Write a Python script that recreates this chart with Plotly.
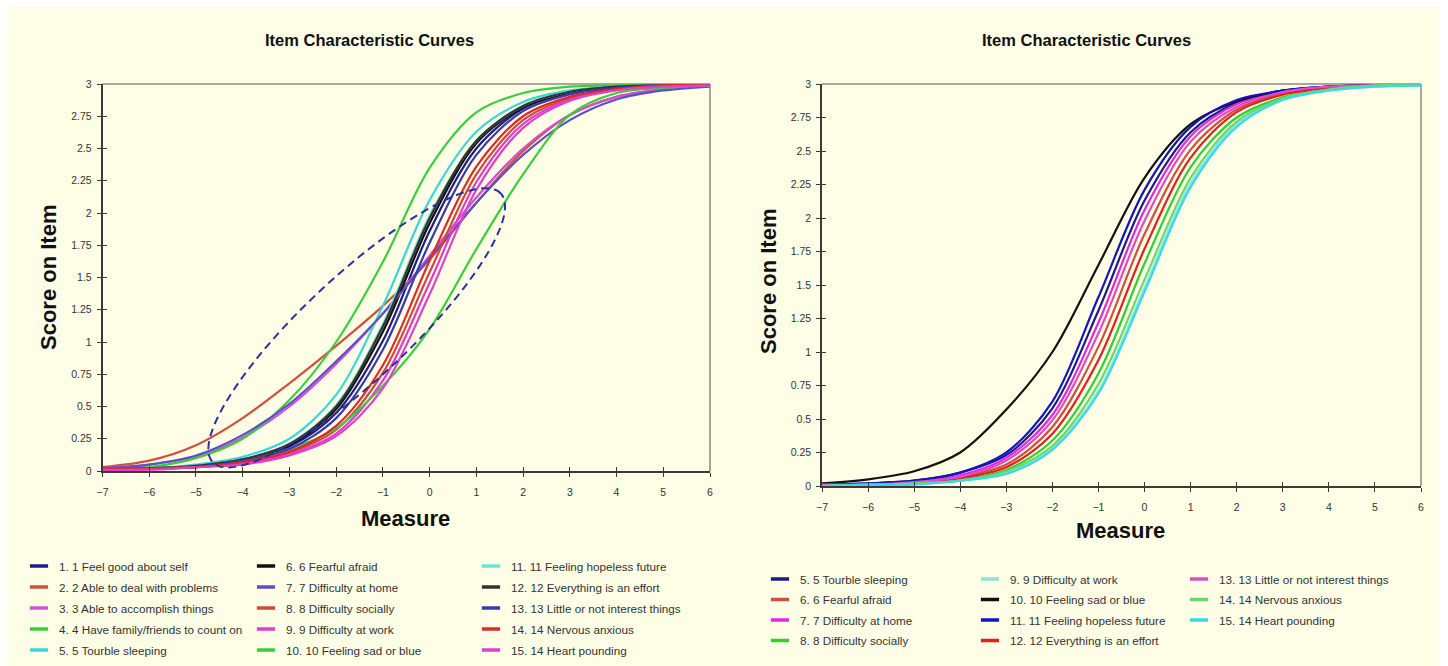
import numpy as np
import plotly.graph_objects as go

W, H = 1448, 666
FONT = "Liberation Sans"
CREAM = "#FEFEE6"

# ---------------- data ----------------
MEASURE = [-7, -6, -5, -4, -3, -2, -1, 0, 1, 2, 3, 4, 5, 6]
Y_TICKS = [0, 0.25, 0.5, 0.75, 1, 1.25, 1.5, 1.75, 2, 2.25, 2.5, 2.75, 3]

LEFT_NAMES = [
    "1. 1 Feel good about self", "2. 2 Able to deal with problems",
    "3. 3 Able to accomplish things", "4. 4 Have family/friends to count on",
    "5. 5 Tourble sleeping", "6. 6 Fearful afraid", "7. 7 Difficulty at home",
    "8. 8 Difficulty socially", "9. 9 Difficulty at work",
    "10. 10 Feeling sad or blue", "11. 11 Feeling hopeless future",
    "12. 12 Everything is an effort", "13. 13 Little or not interest things",
    "14. 14 Nervous anxious", "15. 14 Heart pounding",
]
LEFT_COLORS = [
    "#1c1c8a", "#d0503c", "#d24fd2", "#3ccc3c", "#3fd4dc", "#111111", "#5b4fc8",
    "#cc4b3c", "#dc3cd0", "#3ccc3c", "#6fe0e0", "#333333", "#3a3aa8", "#dd2a2a",
    "#e040c8",
]
L01 = [0.01, 0.02, 0.04, 0.08, 0.19, 0.45, 1.01, 1.86, 2.50, 2.81, 2.93, 2.97, 2.99, 3.00]
L02 = [0.03, 0.08, 0.20, 0.41, 0.68, 0.97, 1.28, 1.64, 2.08, 2.48, 2.76, 2.90, 2.96, 2.99]
L03 = [0.02, 0.05, 0.11, 0.26, 0.50, 0.83, 1.22, 1.67, 2.12, 2.50, 2.76, 2.90, 2.96, 2.99]
L04 = [0.01, 0.03, 0.10, 0.25, 0.55, 1.00, 1.62, 2.35, 2.78, 2.93, 2.98, 2.99, 3.00, 3.00]
L05 = [0.01, 0.02, 0.05, 0.11, 0.25, 0.59, 1.28, 2.10, 2.63, 2.86, 2.95, 2.98, 2.99, 3.00]
L06 = [0.01, 0.02, 0.04, 0.09, 0.20, 0.48, 1.08, 1.92, 2.54, 2.82, 2.93, 2.98, 2.99, 3.00]
L07 = [0.02, 0.05, 0.12, 0.28, 0.52, 0.85, 1.22, 1.65, 2.08, 2.45, 2.72, 2.88, 2.95, 2.98]
L08 = [0.01, 0.02, 0.03, 0.06, 0.14, 0.32, 0.76, 1.54, 2.30, 2.72, 2.89, 2.96, 2.99, 3.00]
L09 = [0.01, 0.02, 0.03, 0.06, 0.13, 0.29, 0.70, 1.46, 2.24, 2.69, 2.88, 2.96, 2.98, 2.99]
L10 = [0.01, 0.02, 0.04, 0.08, 0.17, 0.33, 0.66, 1.10, 1.72, 2.30, 2.76, 2.93, 2.97, 2.99]
L11 = [0.01, 0.02, 0.04, 0.09, 0.21, 0.51, 1.14, 1.98, 2.56, 2.83, 2.94, 2.98, 2.99, 3.00]
L12 = [0.01, 0.02, 0.04, 0.09, 0.21, 0.50, 1.12, 1.96, 2.56, 2.83, 2.94, 2.98, 2.99, 3.00]
L13 = [0.01, 0.02, 0.03, 0.08, 0.17, 0.41, 0.94, 1.77, 2.45, 2.79, 2.92, 2.97, 2.99, 3.00]
L14 = [0.01, 0.02, 0.03, 0.07, 0.15, 0.35, 0.82, 1.63, 2.36, 2.75, 2.90, 2.96, 2.99, 3.00]
L15 = [0.01, 0.01, 0.03, 0.05, 0.12, 0.27, 0.64, 1.37, 2.18, 2.66, 2.87, 2.95, 2.98, 2.99]
LEFT_SERIES = [L01, L02, L03, L04, L05, L06, L07, L08, L09, L10, L11, L12, L13, L14, L15]

RIGHT_NAMES = [
    "5. 5 Tourble sleeping", "6. 6 Fearful afraid", "7. 7 Difficulty at home",
    "8. 8 Difficulty socially", "9. 9 Difficulty at work",
    "10. 10 Feeling sad or blue", "11. 11 Feeling hopeless future",
    "12. 12 Everything is an effort", "13. 13 Little or not interest things",
    "14. 14 Nervous anxious", "15. 14 Heart pounding",
]
RIGHT_COLORS = [
    "#1a1a90", "#d05040", "#e028e0", "#30d030", "#8ae6d6", "#111111", "#1414c0",
    "#e02020", "#e04ac8", "#6ad86a", "#3ad8ea",
]
R05 = [0.01, 0.02, 0.04, 0.10, 0.23, 0.58, 1.31, 2.13, 2.64, 2.86, 2.95, 2.98, 2.99, 3.00]
R06 = [0.01, 0.01, 0.03, 0.07, 0.16, 0.44, 1.04, 1.88, 2.51, 2.81, 2.93, 2.97, 2.99, 3.00]
R07 = [0.01, 0.01, 0.03, 0.08, 0.21, 0.53, 1.22, 2.06, 2.61, 2.85, 2.94, 2.98, 2.99, 3.00]
R08 = [0.01, 0.01, 0.02, 0.05, 0.12, 0.34, 0.84, 1.66, 2.38, 2.75, 2.90, 2.97, 2.99, 3.00]
R09 = [0.00, 0.01, 0.02, 0.04, 0.10, 0.28, 0.71, 1.48, 2.26, 2.70, 2.89, 2.96, 2.98, 2.99]
R10 = [0.02, 0.05, 0.11, 0.25, 0.57, 1.00, 1.65, 2.30, 2.70, 2.87, 2.95, 2.98, 2.99, 3.00]
R11 = [0.01, 0.02, 0.04, 0.10, 0.25, 0.63, 1.41, 2.21, 2.68, 2.88, 2.95, 2.98, 2.99, 3.00]
R12 = [0.01, 0.01, 0.02, 0.06, 0.14, 0.39, 0.94, 1.77, 2.45, 2.79, 2.92, 2.97, 2.99, 3.00]
R13 = [0.01, 0.01, 0.03, 0.07, 0.19, 0.49, 1.14, 1.98, 2.57, 2.83, 2.94, 2.98, 2.99, 3.00]
R14 = [0.00, 0.01, 0.02, 0.04, 0.11, 0.30, 0.76, 1.54, 2.30, 2.72, 2.89, 2.96, 2.99, 2.99]
R15 = [0.00, 0.01, 0.01, 0.04, 0.09, 0.27, 0.69, 1.45, 2.23, 2.68, 2.88, 2.95, 2.98, 2.99]
RIGHT_SERIES = [R05, R06, R07, R08, R09, R10, R11, R12, R13, R14, R15]

# dashed ellipse highlighting the shallow items (centre in data units, axes in px)
ELLIPSE_CENTER = (-1.56, 1.11)
ELLIPSE_SEMI_MAJOR_PX = 197
ELLIPSE_SEMI_MINOR_PX = 52
ELLIPSE_ANGLE_DEG = 43

# ---------------- layout geometry (px) ----------------
LEFT_BOX = dict(l=102.5, r=710, t=84, b=471)
RIGHT_BOX = dict(l=822, r=1421, t=84, b=486)
X_RANGE = [-7, 6]
Y_RANGE = [0, 3]


def xdom(box):
    return [box["l"] / W, box["r"] / W]


def ydom(box):
    return [1 - box["b"] / H, 1 - box["t"] / H]


fig = go.Figure()

LEFT_LEGENDS = ["legend", "legend2", "legend3"]
RIGHT_LEGENDS = ["legend4", "legend5", "legend6"]


def add_item(name, col, ys, xa, ya, legend, group):
    # the curve itself
    fig.add_trace(go.Scatter(
        x=MEASURE, y=ys, name=name, mode="lines",
        line=dict(color=col, width=2.2, shape="spline", smoothing=0.9),
        xaxis=xa, yaxis=ya, legendgroup=group, showlegend=False, hoverinfo="skip"))
    # its legend key: a short thick dash, as in the original
    fig.add_trace(go.Scatter(
        x=[None], y=[None], name=name, mode="markers",
        marker=dict(symbol="line-ew", size=13, color=col, line=dict(width=3.5, color=col)),
        xaxis=xa, yaxis=ya, legend=legend, legendgroup=group, hoverinfo="skip"))


for i, (name, col, ys) in enumerate(zip(LEFT_NAMES, LEFT_COLORS, LEFT_SERIES)):
    add_item(name, col, ys, "x", "y", LEFT_LEGENDS[i // 5], f"L{i}")

for i, (name, col, ys) in enumerate(zip(RIGHT_NAMES, RIGHT_COLORS, RIGHT_SERIES)):
    add_item(name, col, ys, "x2", "y2", RIGHT_LEGENDS[i // 4], f"R{i}")

# dummy traces so the overlay axes (inner half of the cross ticks) are drawn
for xa, ya in (("x3", "y3"), ("x4", "y4")):
    fig.add_trace(go.Scatter(x=[None], y=[None], xaxis=xa, yaxis=ya,
                             showlegend=False, hoverinfo="skip"))

tickfont = dict(family=FONT, size=10.5, color="#333333")
AX_DARK = "#3a3a3a"


def main_x(box, anchor):
    return dict(domain=xdom(box), range=X_RANGE, anchor=anchor, tick0=-7, dtick=1,
                ticks="outside", ticklen=4, tickwidth=1, tickcolor=AX_DARK,
                showline=True, linecolor=AX_DARK, linewidth=1.5, showgrid=False,
                zeroline=False, tickfont=tickfont, ticklabelstandoff=7,
                automargin=False, fixedrange=True)


def main_y(box, anchor):
    return dict(domain=ydom(box), range=Y_RANGE, anchor=anchor, tickvals=Y_TICKS,
                ticks="outside", ticklen=4, tickwidth=1, tickcolor=AX_DARK,
                showline=True, linecolor=AX_DARK, linewidth=1.5, showgrid=False,
                zeroline=False, tickfont=tickfont, ticklabelstandoff=3,
                automargin=False, fixedrange=True)


def over_x(main, anchor):
    return dict(overlaying=main, range=X_RANGE, anchor=anchor, tick0=-7, dtick=1,
                ticks="inside", ticklen=4, tickwidth=1, tickcolor=AX_DARK,
                showline=False, showgrid=False, zeroline=False, showticklabels=False,
                automargin=False, fixedrange=True)


def over_y(main, anchor):
    return dict(overlaying=main, range=Y_RANGE, anchor=anchor, tickvals=Y_TICKS,
                ticks="inside", ticklen=4, tickwidth=1, tickcolor=AX_DARK,
                showline=False, showgrid=False, zeroline=False, showticklabels=False,
                automargin=False, fixedrange=True)


legend_base = dict(orientation="v", xanchor="left", yanchor="top",
                   bgcolor="rgba(0,0,0,0)", borderwidth=0,
                   traceorder="grouped", itemsizing="trace",
                   font=dict(family=FONT, size=11.7, color="#333333"),
                   itemclick=False, itemdoubleclick=False)

LEFT_LEGEND_TEXT_X = [59, 286, 511]
LEFT_LEGEND_ROW1 = 567
RIGHT_LEGEND_TEXT_X = [800, 1010, 1219]
RIGHT_LEGEND_ROW1 = 580
ROW1_OFFSET = 15.4  # distance from legend top to centre of its first row

legends = {}
for key, tx in zip(LEFT_LEGENDS, LEFT_LEGEND_TEXT_X):
    legends[key] = dict(legend_base, x=(tx - 40) / W, tracegroupgap=2,
                        y=1 - (LEFT_LEGEND_ROW1 - ROW1_OFFSET) / H)
for key, tx in zip(RIGHT_LEGENDS, RIGHT_LEGEND_TEXT_X):
    legends[key] = dict(legend_base, x=(tx - 40) / W, tracegroupgap=1.5,
                        y=1 - (RIGHT_LEGEND_ROW1 - ROW1_OFFSET) / H)


def ann(text, px, py, size, angle=0):
    return dict(text=text, x=px / W, y=1 - py / H, xref="paper", yref="paper",
                xanchor="center", yanchor="middle", showarrow=False, textangle=angle,
                font=dict(family=FONT, size=size, color="#111111", weight="bold"))


annotations = [
    ann("Item Characteristic Curves", 369, 40, 16.5),
    ann("Item Characteristic Curves", 1086, 40, 16.5),
    ann("Measure", 405, 518, 22),
    ann("Measure", 1120, 530, 22),
    ann("Score on Item", 48, 278, 22, -90),
    ann("Score on Item", 768, 282, 22, -90),
]

shapes = [
    # white outer edge of the picture
    dict(type="rect", xref="paper", yref="paper", x0=0, x1=1, y0=1 - 7 / H, y1=1,
         fillcolor="white", line=dict(width=0), layer="below"),
    dict(type="rect", xref="paper", yref="paper", x0=0, x1=7 / W, y0=0, y1=1,
         fillcolor="white", line=dict(width=0), layer="below"),
    dict(type="rect", xref="paper", yref="paper", x0=1 - 9 / W, x1=1, y0=0, y1=1,
         fillcolor="white", line=dict(width=0), layer="below"),
]
# grey top / right frame of each plot area
for xr, yr in (("x", "y"), ("x2", "y2")):
    shapes.append(dict(type="line", xref=f"{xr} domain", yref=f"{yr} domain",
                       x0=0, x1=1, y0=1, y1=1, line=dict(color="#8a8a80", width=1.5),
                       layer="below"))
    shapes.append(dict(type="line", xref=f"{xr} domain", yref=f"{yr} domain",
                       x0=1, x1=1, y0=0, y1=1, line=dict(color="#8a8a80", width=1.5),
                       layer="below"))

# dashed ellipse (built in screen px around its centre, mapped through the axis scale)
px_per_x = (LEFT_BOX["r"] - LEFT_BOX["l"]) / (X_RANGE[1] - X_RANGE[0])
px_per_y = (LEFT_BOX["b"] - LEFT_BOX["t"]) / (Y_RANGE[1] - Y_RANGE[0])
t = np.linspace(0, 2 * np.pi, 121)
th = np.deg2rad(ELLIPSE_ANGLE_DEG)
u = ELLIPSE_SEMI_MAJOR_PX * np.cos(t) * np.cos(th) - ELLIPSE_SEMI_MINOR_PX * np.sin(t) * np.sin(th)
v = ELLIPSE_SEMI_MAJOR_PX * np.cos(t) * np.sin(th) + ELLIPSE_SEMI_MINOR_PX * np.sin(t) * np.cos(th)
ex = ELLIPSE_CENTER[0] + u / px_per_x
ey = ELLIPSE_CENTER[1] + v / px_per_y
path = "M " + " L ".join(f"{a:.4f},{b:.4f}" for a, b in zip(ex, ey)) + " Z"
shapes.append(dict(type="path", xref="x", yref="y", path=path,
                   line=dict(color="#2e2e9c", width=2, dash="8px,5px")))

fig.update_layout(
    width=W, height=H, margin=dict(l=0, r=0, t=0, b=0, pad=0, autoexpand=False),
    paper_bgcolor=CREAM, plot_bgcolor="rgba(0,0,0,0)",
    font=dict(family=FONT, color="#333333"),
    xaxis=main_x(LEFT_BOX, "y"), yaxis=main_y(LEFT_BOX, "x"),
    xaxis2=main_x(RIGHT_BOX, "y2"), yaxis2=main_y(RIGHT_BOX, "x2"),
    xaxis3=over_x("x", "y3"), yaxis3=over_y("y", "x3"),
    xaxis4=over_x("x2", "y4"), yaxis4=over_y("y2", "x4"),
    annotations=annotations, shapes=shapes, hovermode=False,
    **legends,
)

fig.write_html("out.html")
